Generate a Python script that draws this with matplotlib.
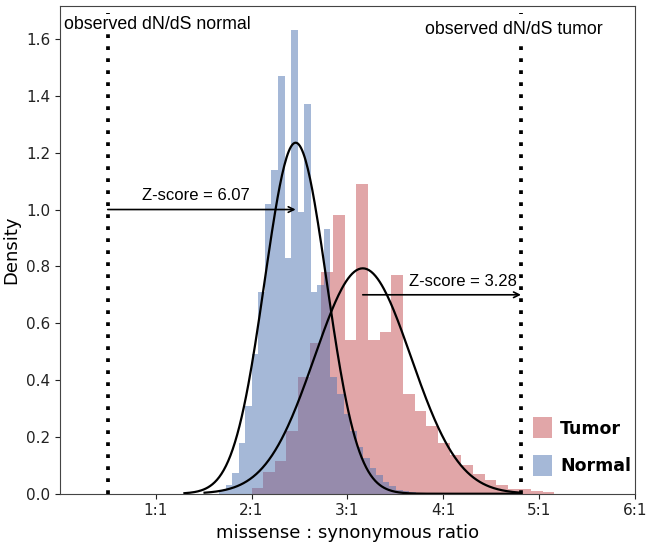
import numpy as np
import matplotlib
matplotlib.use("Agg")
import matplotlib.pyplot as plt

# histogram bar heights (density)
normal_start = 1.66
normal_width = 0.0684
normal_heights = [0.014, 0.03, 0.073, 0.18, 0.31, 0.49, 0.71, 1.02, 1.14, 1.47,
                  0.83, 1.63, 0.99, 1.37, 0.71, 0.735, 0.93, 0.41, 0.35, 0.28,
                  0.22, 0.165, 0.125, 0.09, 0.065, 0.043, 0.026, 0.014, 0.01,
                  0.006, 0.004, 0.003]

tumor_start = 2.0
tumor_width = 0.1215
tumor_heights = [0.02, 0.075, 0.116, 0.22, 0.41, 0.53, 0.78, 0.98, 0.54, 1.09,
                 0.54, 0.57, 0.77, 0.35, 0.29, 0.24, 0.18, 0.135, 0.10, 0.07,
                 0.048, 0.03, 0.015, 0.015, 0.011, 0.005]

# fitted normal curves
normal_mean, normal_sd = 2.46, 0.323
tumor_mean, tumor_sd = 3.16, 0.503
curve_range = {"normal": (1.30, 4.8), "tumor": (1.51, 4.8)}

# observed values and z-scores
obs_normal = 0.5
obs_tumor = 4.81
z_normal = "Z-score = 6.07"
z_tumor = "Z-score = 3.28"

xticks = [1, 2, 3, 4, 5, 6]
xticklabels = ["1:1", "2:1", "3:1", "4:1", "5:1", "6:1"]


def pdf(x, m, s):
    return np.exp(-0.5 * ((x - m) / s) ** 2) / (s * np.sqrt(2 * np.pi))


fig = plt.figure(figsize=(6.5, 5.48), dpi=100)
ax = fig.add_axes([0.092, 0.099, 0.885, 0.89])

t_edges = tumor_start + tumor_width * np.arange(len(tumor_heights) + 1)
n_edges = normal_start + normal_width * np.arange(len(normal_heights) + 1)

ax.hist(t_edges[:-1], bins=t_edges, weights=tumor_heights,
        color="#c44e52", alpha=0.5, label="Tumor")
ax.hist(n_edges[:-1], bins=n_edges, weights=normal_heights,
        color="#4c72b0", alpha=0.5, label="Normal")

xn = np.linspace(*curve_range["normal"], 300)
xt = np.linspace(*curve_range["tumor"], 300)
ax.plot(xn, pdf(xn, normal_mean, normal_sd), color="black", lw=1.6)
ax.plot(xt, pdf(xt, tumor_mean, tumor_sd), color="black", lw=1.6)

# observed values
for xv in [obs_normal, obs_tumor]:
    ax.plot([xv, xv], [0, 1.69], color="black", lw=2.7,
            linestyle=(0, (1, 2.2)), dash_capstyle="butt", zorder=3)

txt_font = ["Liberation Sans", "DejaVu Sans"]
ax.text(1.02, 1.652, "observed dN/dS normal", ha="center", va="center",
        fontsize=12.8, family=txt_font, zorder=4,
        bbox=dict(facecolor="white", edgecolor="none", pad=1))
ax.text(4.74, 1.632, "observed dN/dS tumor", ha="center", va="center",
        fontsize=12.8, family=txt_font, zorder=4,
        bbox=dict(facecolor="white", edgecolor="none", pad=1))

# z-score arrows
ax.annotate("", xy=(normal_mean, 1.0), xytext=(obs_normal, 1.0),
            arrowprops=dict(arrowstyle="->", color="black", lw=1.2,
                            shrinkA=0, shrinkB=0), zorder=4)
ax.text(1.42, 1.022, z_normal, ha="center", va="bottom", fontsize=12,
        family=txt_font)
ax.annotate("", xy=(obs_tumor, 0.70), xytext=(tumor_mean, 0.70),
            arrowprops=dict(arrowstyle="->", color="black", lw=1.2,
                            shrinkA=0, shrinkB=0), zorder=4)
ax.text(4.2, 0.722, z_tumor, ha="center", va="bottom", fontsize=12,
        family=txt_font, zorder=4,
        bbox=dict(facecolor="white", edgecolor="none", pad=0.5))

ax.set_xlim(0, 6)
ax.set_ylim(0, 1.716)
ax.set_xticks(xticks)
ax.set_xticklabels(xticklabels)
ax.set_yticks(np.arange(0, 1.61, 0.2))
ax.tick_params(labelsize=11, colors="#222222")
ax.set_xlabel("missense : synonymous ratio", fontsize=13)
ax.set_ylabel("Density", fontsize=13)
for sp in ax.spines.values():
    sp.set_color("#444444")

ax.legend(loc="lower right", bbox_to_anchor=(1.005, 0.022), frameon=False,
          prop=dict(size=12.5, weight="bold"),
          handlelength=1.1, handleheight=1.5, handletextpad=0.45,
          labelspacing=0.95, borderaxespad=0)

fig.savefig("out.png", dpi=100)
